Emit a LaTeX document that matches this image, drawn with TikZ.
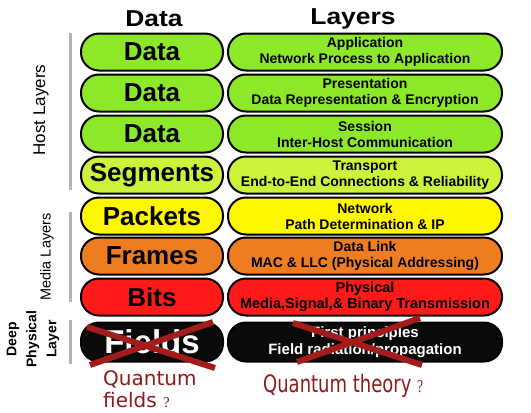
\documentclass[tikz,border=0pt]{standalone}
\usepackage{fontspec}
\setmainfont{Liberation Sans}
\newfontfamily\dejaf{DejaVu Sans}
\newfontfamily\timesf{Liberation Serif}
\definecolor{cgreen}{HTML}{8DE82A}
\definecolor{cseg}{HTML}{CDF23A}
\definecolor{cyel}{HTML}{FFF700}
\definecolor{corange}{HTML}{EE7D22}
\definecolor{cred}{HTML}{FF1A1A}
\definecolor{cblack}{HTML}{0A0A0A}
\definecolor{ccross}{HTML}{A31B1B}
\definecolor{cqtext}{HTML}{8E1B1B}
\definecolor{crule}{HTML}{B4B4B4}
\tikzset{
  pill/.style={draw=black, line width=2pt, rounded corners=18pt, minimum height=37pt, inner sep=0pt},
  lpill/.style={pill, minimum width=142pt, font=\bfseries\fontsize{26}{26}\selectfont},
  rpill/.style={pill, minimum width=274pt, align=center, font=\bfseries\fontsize{14}{16}\selectfont},
  header/.style={font=\bfseries\fontsize{23}{23}\selectfont, xscale=1.15},
  siderule/.style={draw=crule, line width=3pt},
  sidelabel/.style={rotate=90, font=\fontsize{17}{17}\selectfont},
  crossline/.style={draw=ccross, line width=6pt},
  qtext/.style={text=cqtext, anchor=base west, inner sep=0pt}
}
\begin{document}
\begin{tikzpicture}[x=1pt, y=-1pt]
\useasboundingbox[fill=white] (0,0) rectangle (531,413);
% headers
\node[header] (hdata) at (154,19) {Data};
\node[header] (hlayers) at (353,19) {Layers};
% rows
\node[lpill, fill=cgreen] (l1) at (152,52) {Data};
\node[rpill, fill=cgreen] (r1) at (365,52) {Application\\Network Process to Application};
\node[lpill, fill=cgreen] (l2) at (152,93) {Data};
\node[rpill, fill=cgreen] (r2) at (365,93) {Presentation\\Data Representation \& Encryption};
\node[lpill, fill=cgreen] (l3) at (152,134) {Data};
\node[rpill, fill=cgreen] (r3) at (365,134) {Session\\Inter-Host Communication};
\node[lpill, fill=cseg] (l4) at (152,175) {Segments};
\node[rpill, fill=cseg] (r4) at (365,175) {Transport\\End-to-End Connections \& Reliability};
\node[lpill, fill=cyel] (l5) at (152,216) {Packets};
\node[rpill, fill=cyel] (r5) at (365,216) {Network\\Path Determination \& IP};
\node[lpill, fill=corange] (l6) at (152,256) {Frames};
\node[rpill, fill=corange] (r6) at (365,256) {Data Link\\MAC \& LLC (Physical Addressing)};
\node[lpill, fill=cred] (l7) at (152,297) {Bits};
\node[rpill, fill=cred, font=\bfseries\fontsize{14.5}{16}\selectfont] (r7) at (365,297) {Physical\\Media,Signal,\& Binary Transmission};
\node[lpill, fill=cblack, minimum height=39pt, text=white, font=\bfseries\fontsize{33}{33}\selectfont] (l8) at (152,342) {Fields};
\node[rpill, fill=cblack, minimum height=39pt, text=white, font=\bfseries\fontsize{15}{17}\selectfont] (r8) at (365,342) {First principles\\Field radiation/propagation};
% side rules and labels
\coordinate (h1) at (70,33); \coordinate (h2) at (70,190);
\coordinate (m1) at (70,212); \coordinate (m2) at (70,302);
\coordinate (d1) at (70,320); \coordinate (d2) at (70,364);
\draw[siderule] (h1) -- (h2);
\draw[siderule] (m1) -- (m2);
\draw[siderule] (d1) -- (d2);
\node[sidelabel] (hostlab) at (41,110) {Host Layers};
\node[sidelabel, font=\fontsize{14.5}{14.5}\selectfont] (medialab) at (47,257) {Media Layers};
\node[rotate=90, align=center, font=\bfseries\fontsize{14}{20}\selectfont] (deeplab) at (33,339) {Deep\\Physical\\Layer};
% crosses
\coordinate (ca1) at (87,327); \coordinate (ca2) at (215,368);
\coordinate (cb1) at (90,365); \coordinate (cb2) at (213,322);
\coordinate (cc1) at (293,323); \coordinate (cc2) at (422,365);
\coordinate (cd1) at (297,362); \coordinate (cd2) at (420,318);
\draw[crossline] (ca1) -- (ca2);
\draw[crossline] (cb1) -- (cb2);
\draw[crossline] (cc1) -- (cc2);
\draw[crossline] (cd1) -- (cd2);
% quantum texts
\node[qtext, font=\dejaf\fontsize{20}{25}\selectfont] (qf1) at (103,385) {Quantum};
\node[qtext, font=\dejaf\fontsize{20}{25}\selectfont] (qf2) at (103,407) {fields {\timesf\fontsize{15}{15}\selectfont ?}};
\node[qtext, font=\dejaf\fontsize{24}{24}\selectfont, xscale=0.75] (qt) at (263,392) {Quantum theory {\timesf\fontsize{18}{18}\selectfont ?}};
\end{tikzpicture}
\end{document}
